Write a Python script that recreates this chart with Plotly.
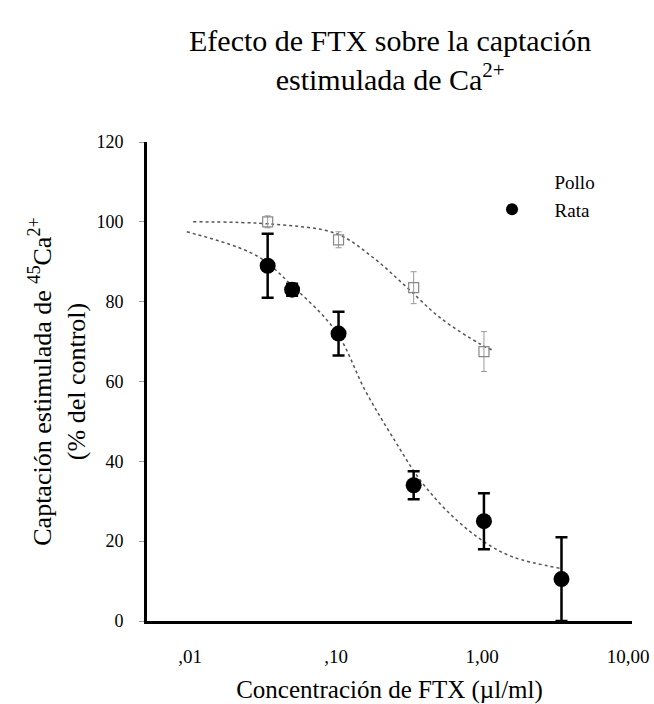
import plotly.graph_objects as go

# Data
rata_x = [0.034, 0.05, 0.104, 0.34, 1.03, 3.5]
rata_y = [89, 83, 72, 34, 25, 10.5]
rata_err = [8, 1.5, 5.5, 3.5, 7, 10.5]

pollo_x = [0.034, 0.104, 0.34, 1.03]
pollo_y = [100, 95.5, 83.5, 67.5]
pollo_err = [1.5, 2, 4, 5]

# Fitted curves
rata_fit_x = [0.0095, 0.0286, 0.05, 0.1, 0.158, 0.24, 0.386, 0.637, 1.077, 1.64, 3.42]
rata_fit_y = [97.5, 91.5, 84, 72.5, 57.8, 46.5, 34.8, 26, 19.4, 16, 13.2]
pollo_fit_x = [0.0105, 0.037, 0.101, 0.18, 0.305, 0.515, 0.969, 1.19]
pollo_fit_y = [100, 99.4, 97, 91, 83.6, 76, 69.4, 67.8]

x_tickvals = [0.01, 0.1, 1, 10]
x_ticktext = [",01", ",10", "1,00", "10,00"]
y_tickvals = [0, 20, 40, 60, 80, 100, 120]

SERIF = "Liberation Serif"

fig = go.Figure()

fig.add_trace(go.Scatter(
    x=pollo_fit_x, y=pollo_fit_y, mode="lines", line_shape="spline",
    line=dict(color="#555555", width=1.5, dash="dot"), showlegend=False, hoverinfo="skip"))
fig.add_trace(go.Scatter(
    x=rata_fit_x, y=rata_fit_y, mode="lines", line_shape="spline",
    line=dict(color="#555555", width=1.5, dash="dot"), showlegend=False, hoverinfo="skip"))

fig.add_trace(go.Scatter(
    x=pollo_x, y=pollo_y, mode="markers", name="Pollo", showlegend=False,
    marker=dict(symbol="square-open", size=10, color="#888888", line=dict(width=1.2, color="#888888")),
    error_y=dict(type="data", array=pollo_err, color="#999999", thickness=1, width=3)))
# legend entry for Pollo (its symbol is not visible in the reference)
fig.add_trace(go.Scatter(
    x=[None], y=[None], mode="markers", name="Pollo",
    marker=dict(symbol="circle", size=16, color="rgba(0,0,0,0)")))

fig.add_trace(go.Scatter(
    x=rata_x, y=rata_y, mode="markers", name="Rata",
    marker=dict(symbol="circle", size=16, color="black"),
    error_y=dict(type="data", array=rata_err, color="black", thickness=2.5, width=6)))

fig.update_layout(
    width=654, height=704,
    margin=dict(l=147, r=22, t=142, b=83),
    paper_bgcolor="white", plot_bgcolor="white",
    font=dict(family=SERIF, color="black"),
    legend=dict(
        x=0.665, y=0.957, xref="paper", yref="paper", xanchor="left", yanchor="top",
        font=dict(family=SERIF, size=19, color="black"),
        bgcolor="rgba(0,0,0,0)", itemsizing="constant", itemwidth=75, tracegroupgap=0),
    annotations=[dict(
        text="Efecto de FTX sobre la captación<br>estimulada de Ca<sup>2+</sup>",
        x=0.5, xref="paper", xanchor="center",
        y=(621 - 60) / 479, yref="paper", yanchor="middle",
        showarrow=False, align="center",
        font=dict(family=SERIF, size=30, color="black"))],
)

fig.update_xaxes(
    type="log", range=[-2.295, 1.027],
    tickvals=x_tickvals, ticktext=x_ticktext,
    tickfont=dict(family=SERIF, size=19),
    ticks="", ticklabelstandoff=16,
    showline=True, linecolor="black", linewidth=2.5,
    showgrid=False, zeroline=False, automargin=False,
    title=dict(text="Concentración de FTX (µl/ml)", font=dict(family=SERIF, size=25), standoff=20),
)
fig.update_yaxes(
    range=[0, 120], tickvals=y_tickvals,
    tickfont=dict(family=SERIF, size=18),
    ticks="outside", ticklen=5, tickwidth=1, tickcolor="#999999",
    ticklabelstandoff=12,
    showline=True, linecolor="black", linewidth=3,
    showgrid=False, zeroline=False, automargin=False,
    title=dict(text="Captación estimulada de <sup>45</sup>Ca<sup>2+</sup><br>(% del control)",
               font=dict(family=SERIF, size=26), standoff=4),
)

fig.write_html("out.html")
